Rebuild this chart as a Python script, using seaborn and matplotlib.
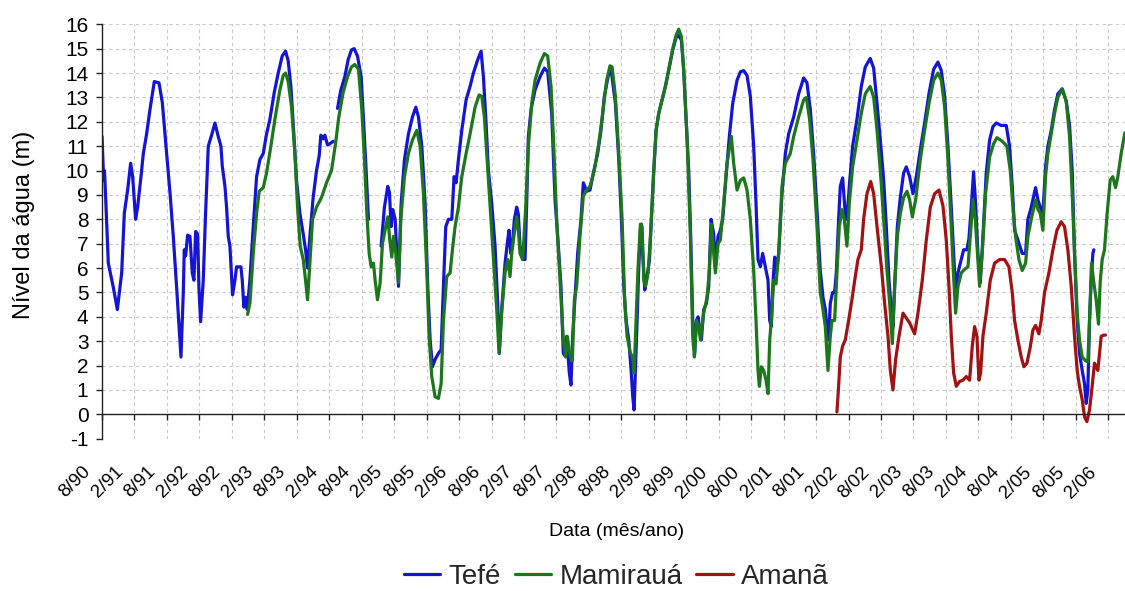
import numpy as np
import pandas as pd
import matplotlib
matplotlib.use("Agg")
import matplotlib.pyplot as plt
import seaborn as sns
from matplotlib.transforms import ScaledTranslation

nan = float("nan")

# months since August 1990, water level (m); nan marks a gap in the record
tefe_month = [
    0.0, 0.3, 0.45, 0.65, 1.16, 2.09, 2.83, 3.63, 4.12, 4.73,
    5.29, 5.66, 6.21, 6.58, 7.2, 7.63, 8.24, 8.86, 9.66, 10.52,
    11.14, 11.94, 12.56, 13.17, 13.79, 14.59, 15.02, 15.2, 15.45, 15.82,
    16.25, 16.68, 16.99, 17.3, 17.67, 17.91, 18.22, 18.71, 19.14, 19.64,
    20.25, 20.87, 21.48, 21.98, 22.22, 22.72, 23.02, 23.33, 23.64, 24.13,
    24.56, 24.87, 25.67, 25.92, 26.22, 26.53, 26.84, 27.33, 27.95, 28.57,
    29.18, 29.8, 30.41, 31.03, 31.83, 32.57, 33.31, 33.92, 34.41, 34.91,
    35.4, 35.95, 36.57, 37.19, 37.62, 37.99, 38.42, 39.03, 39.65, 40.14,
    40.45, 40.88, 41.19, 41.68, 42.11, 42.73, nan,
    43.53, 44.14, 44.88, 45.5, 46.11, 46.61, 47.22, 47.9, 48.33, 48.82,
    49.25, nan,
    51.59, 52.2, 52.82, 53.13, 53.44, 53.75, 54.18, 54.49, 54.8, 55.29,
    55.9, 56.64, 57.38, 58.0, 58.49, 59.11, 59.72, 60.21, 60.65, 61.08,
    61.57, 62.18, 62.68, 63.11, 63.54, 64.03, 64.65, 65.08, 65.45, 65.88,
    66.5, 67.3, 68.03, 68.65, 69.45, 70.07, 70.5, 70.99, 71.42, 72.04,
    72.65, 73.14, 73.45, 73.88, 74.5, 74.99, 75.24, 75.55, 75.85, 76.22,
    76.65, 76.96, 77.27, 77.76, 78.19, 78.5, 78.81, 79.3, 80.04, 80.96,
    81.77, 82.38, 83.12, 83.74, 84.35, 84.84, 85.27, 85.58, 85.89, 86.38,
    86.69, 87.0, 87.43, 87.92, 88.54, 88.97, 89.59, 90.2, 90.82, 91.62,
    92.23, 92.85, 93.59, 94.1, 94.9, 95.52, 96.01, 96.45, 96.88, 97.37,
    97.8, 98.11, 98.35, 98.6, 98.91, 99.22, 99.52, 99.71, 99.96, 100.32,
    100.76, 101.19, 101.56, 101.99, 102.42, 102.91, 103.53, 104.14, 104.88, 105.5,
    106.11, 106.6, 107.1, 107.53, 107.96, 108.45, 108.82, 109.19, 109.56, 109.87,
    110.18, 110.48, 110.79, 111.22, 111.72, 112.15, 112.58, 113.07, 113.38, 113.87,
    114.3, 114.73, 115.35, 115.96, 116.58, 117.38, 118.0, 118.61, 119.23, 119.84,
    120.46, 120.89, 121.26, 121.69, 122.12, 122.62, 123.11, 123.42, 123.72, 124.03,
    124.34, 124.65, 125.08, 125.69, 126.31, 126.92, 127.85, 128.77, 129.7, 130.31,
    130.93, 131.54, 132.16, 132.77, 133.27, 133.7, 134.0, 134.31, 134.62, 135.05,
    135.42, 135.73, 136.16, 136.47, 136.9, 137.39, 137.7, 138.13, 138.75, 139.55,
    140.35, 141.09, 142.0, 142.64, 143.26, 143.87, 144.49, 144.98, 145.47, 145.9,
    146.21, 146.52, 147.01, 147.57, 148.18, 148.67, 149.29, 149.9, 150.52, 151.26,
    152.06, 152.86, 153.72, 154.52, 155.14, 155.76, 156.37, 156.99, 157.42, 157.79,
    158.22, 158.83, 159.27, 159.88, 160.25, 160.68, 161.11, 161.48, 161.91, 162.35,
    162.84, 163.45, 164.07, 164.68, 165.3, 166.22, 167.15, 167.76, 168.26, 168.69,
    169.3, 170.1, 170.72, 171.15, 171.77, 172.57, 173.0, 173.43, 173.92, 174.41,
    174.84, 175.46, 176.08, 176.69, 177.49, 178.23, 178.85, 179.34, 179.77, 180.26,
    180.69, 181.19, 181.62, 181.93, 182.23, 182.54, 182.85, 183.16, 183.34,
]
tefe_level = [
    11.4, 9.6, 10.0, 9.0, 6.2, 5.2, 4.3, 5.8, 8.25, 9.2,
    10.3, 9.75, 8.0, 8.5, 9.75, 10.7, 11.5, 12.5, 13.65, 13.6,
    12.8, 10.7, 9.1, 7.3, 5.2, 2.35, 5.0, 6.75, 6.5, 7.35,
    7.3, 5.8, 5.5, 7.5, 7.4, 5.2, 3.8, 5.5, 8.25, 11.0,
    11.45, 11.95, 11.4, 11.0, 10.2, 9.35, 8.5, 7.3, 6.9, 4.9,
    5.5, 6.05, 6.05, 5.5, 4.4, 4.8, 4.3, 5.5, 7.7, 9.75,
    10.45, 10.7, 11.5, 12.1, 13.2, 14.0, 14.7, 14.9, 14.5, 13.45,
    11.7, 9.6, 8.25, 7.4, 6.75, 6.0, 7.3, 8.9, 10.0, 10.6,
    11.45, 11.3, 11.45, 11.05, 11.1, 11.2, nan,
    12.55, 13.3, 13.85, 14.55, 14.95, 15.0, 14.7, 13.85, 12.1, 10.0,
    8.0, nan,
    6.9, 8.5, 9.35, 9.1, 7.7, 8.4, 8.0, 6.6, 5.25, 8.65,
    10.45, 11.5, 12.2, 12.6, 12.2, 11.0, 8.65, 5.25, 3.05, 1.95,
    2.25, 2.5, 2.65, 5.25, 7.7, 8.0, 8.0, 9.75, 9.5, 10.45,
    11.65, 12.9, 13.45, 14.0, 14.55, 14.9, 13.85, 11.95, 10.0, 8.65,
    6.9, 4.55, 2.5, 4.3, 6.2, 7.15, 7.55, 6.6, 6.9, 8.0,
    8.5, 8.2, 6.9, 6.35, 6.35, 8.65, 11.4, 12.5, 13.3, 13.85,
    14.2, 14.05, 12.35, 8.8, 6.9, 5.25, 2.5, 2.4, 3.2, 1.7,
    1.2, 3.2, 4.8, 6.6, 8.0, 9.5, 9.15, 9.2, 9.9, 10.7,
    11.65, 13.05, 13.9, 14.15, 12.75, 10.45, 8.0, 5.25, 3.85, 3.05,
    1.8, 0.72, 0.18, 1.8, 3.85, 6.05, 7.55, 7.8, 6.6, 5.1,
    5.65, 6.35, 8.0, 10.0, 11.65, 12.35, 12.9, 13.45, 14.25, 14.95,
    15.45, 15.55, 15.35, 14.1, 12.1, 10.0, 7.3, 3.85, 2.5, 3.85,
    4.0, 3.5, 3.05, 4.3, 4.55, 5.25, 8.0, 7.4, 6.05, 7.3,
    7.55, 8.0, 9.75, 11.4, 12.75, 13.7, 14.05, 14.1, 13.9, 13.05,
    11.0, 8.65, 6.35, 6.05, 6.6, 6.05, 5.5, 3.85, 3.6, 5.4,
    6.45, 5.8, 6.6, 9.05, 10.7, 11.5, 12.2, 13.15, 13.8, 13.6,
    12.5, 10.7, 8.4, 5.9, 4.8, 4.3, 3.6, 3.05, 4.55, 5.0,
    5.0, 5.8, 8.0, 9.35, 9.7, 8.25, 8.0, 9.35, 11.0, 12.1,
    13.45, 14.25, 14.6, 14.2, 12.75, 11.25, 9.6, 7.7, 5.5, 4.3,
    3.6, 5.25, 7.7, 8.9, 9.9, 10.15, 9.75, 9.05, 9.75, 10.85,
    11.95, 13.15, 14.15, 14.45, 14.1, 13.05, 11.0, 8.5, 6.6, 5.0,
    5.8, 6.35, 6.75, 6.75, 7.2, 8.5, 9.95, 8.65, 6.6, 5.4,
    7.3, 9.9, 11.25, 11.8, 11.95, 11.85, 11.85, 11.0, 9.35, 7.55,
    7.15, 6.6, 6.6, 8.0, 8.5, 9.3, 8.8, 8.5, 8.25, 10.15,
    11.0, 11.65, 12.5, 13.15, 13.35, 12.85, 11.85, 10.0, 6.6, 3.85,
    2.5, 1.8, 1.25, 0.45, 1.0, 3.85, 5.5, 6.6, 6.75,
]

mamiraua_month = [
    26.9, 27.33, 27.95, 28.57, 29.06, 29.8, 30.41, 31.21, 31.95, 32.87,
    33.49, 33.92, 34.41, 35.03, 35.65, 36.14, 36.63, 37.19, 37.62, 37.99,
    38.42, 38.91, 39.65, 40.57, 41.5, 42.42, 43.16, 43.77, 44.57, 45.38,
    46.11, 46.73, 47.41, 48.02, 48.51, 48.95, 49.38, 49.75, 50.18, 50.48,
    50.92, 51.41, 51.84, 52.45, 52.82, 53.19, 53.56, 53.87, 54.3, 54.8,
    55.23, 55.9, 56.64, 57.38, 58.18, 58.8, 59.41, 60.03, 60.46, 60.95,
    61.57, 62.18, 62.68, 63.11, 63.72, 64.34, 64.77, 65.26, 65.88, 66.5,
    67.3, 68.03, 68.96, 69.7, 70.19, 70.68, 71.11, 71.73, 72.34, 72.96,
    73.39, 73.88, 74.5, 74.99, 75.42, 75.73, 76.22, 76.65, 76.96, 77.27,
    77.76, 78.32, 78.81, 79.43, 80.04, 80.96, 81.77, 82.38, 83.0, 83.43,
    84.04, 84.66, 85.27, 85.71, 86.01, 86.38, 86.69, 86.94, 87.31, 87.74,
    88.35, 88.97, 89.59, 90.2, 91.0, 91.74, 92.48, 93.28, 93.9, 94.29,
    94.9, 95.52, 96.14, 96.63, 97.06, 97.68, 98.11, 98.35, 98.72, 99.09,
    99.52, 99.83, 100.14, 100.45, 100.94, 101.37, 101.99, 102.42, 102.91, 103.53,
    104.14, 104.88, 105.5, 106.11, 106.6, 107.1, 107.53, 108.14, 108.76, 109.19,
    109.5, 109.87, 110.3, 110.61, 111.22, 111.84, 112.27, 112.64, 113.07, 113.38,
    113.87, 114.3, 114.92, 115.53, 116.33, 116.76, 117.38, 118.0, 118.61, 119.23,
    119.84, 120.46, 120.89, 121.26, 121.51, 121.88, 122.31, 122.74, 123.11, 123.42,
    123.72, 124.15, 124.59, 125.08, 125.69, 126.31, 127.23, 127.85, 128.77, 129.7,
    130.19, 130.8, 131.42, 132.16, 132.77, 133.21, 133.7, 134.19, 134.62, 134.93,
    135.42, 135.85, 136.28, 136.78, 137.21, 137.7, 138.13, 138.75, 139.55, 140.35,
    141.09, 142.0, 142.64, 143.26, 143.87, 144.49, 145.1, 145.6, 146.09, 146.52,
    147.01, 147.57, 148.18, 148.8, 149.29, 149.78, 150.4, 151.26, 152.06, 152.86,
    153.72, 154.52, 155.14, 155.76, 156.37, 156.99, 157.42, 157.79, 158.22, 158.83,
    159.45, 160.07, 160.5, 160.99, 161.42, 161.91, 162.22, 162.71, 163.33, 164.07,
    164.81, 165.42, 166.41, 167.27, 167.89, 168.38, 168.87, 169.49, 170.1, 170.72,
    171.15, 171.77, 172.57, 173.0, 173.43, 173.92, 174.41, 174.84, 175.46, 176.08,
    176.69, 177.49, 178.23, 178.85, 179.34, 179.77, 180.26, 180.69, 181.19, 181.8,
    182.23, 182.54, 182.91, 183.28, 183.77, 184.2, 184.51, 184.88, 185.31, 185.8,
    186.36, 186.85, 187.35, 187.78, 188.39, 189.07,
]
mamiraua_level = [
    4.1, 4.55, 6.6, 8.25, 9.15, 9.3, 9.9, 11.0, 12.1, 13.3,
    13.9, 14.0, 13.65, 12.6, 10.7, 8.5, 6.9, 6.35, 5.5, 4.7,
    6.2, 8.0, 8.5, 8.9, 9.5, 10.0, 11.1, 12.2, 13.2, 13.85,
    14.25, 14.35, 14.15, 12.5, 10.45, 8.25, 6.6, 6.05, 6.2, 5.5,
    4.7, 5.4, 7.0, 7.7, 8.1, 7.15, 6.45, 7.3, 6.6, 5.4,
    8.0, 9.75, 10.7, 11.25, 11.65, 11.0, 9.05, 5.9, 3.2, 1.55,
    0.72, 0.65, 1.25, 3.85, 5.65, 5.8, 6.75, 7.7, 8.5, 9.75,
    10.7, 11.5, 12.6, 13.1, 13.05, 12.2, 10.7, 8.5, 6.35, 4.3,
    2.5, 4.2, 5.8, 6.35, 5.65, 6.6, 7.45, 8.1, 7.55, 6.6,
    6.35, 8.5, 11.0, 12.75, 13.7, 14.4, 14.8, 14.7, 13.45, 11.4,
    8.0, 5.5, 3.05, 2.35, 3.2, 2.6, 2.35, 2.2, 4.7, 5.25,
    7.3, 8.95, 9.2, 9.35, 10.0, 11.0, 12.2, 13.7, 14.3, 14.25,
    13.05, 10.7, 8.0, 4.55, 3.2, 2.5, 2.35, 1.7, 3.85, 6.05,
    7.8, 7.7, 5.5, 5.25, 5.8, 7.3, 10.0, 11.65, 12.35, 12.9,
    13.45, 14.3, 15.0, 15.55, 15.8, 15.5, 14.1, 11.4, 7.3, 3.2,
    2.35, 3.85, 3.6, 3.05, 4.15, 4.8, 5.9, 7.8, 6.6, 5.8,
    7.0, 7.15, 8.65, 10.3, 11.4, 10.3, 9.2, 9.6, 9.7, 9.2,
    8.0, 5.9, 3.85, 1.8, 1.15, 1.95, 1.8, 1.4, 0.85, 3.05,
    3.85, 5.5, 5.35, 6.6, 9.35, 10.3, 10.7, 11.4, 12.2, 12.9,
    13.0, 12.1, 10.45, 7.7, 5.0, 4.4, 3.6, 1.8, 3.2, 3.85,
    3.85, 5.8, 7.7, 8.4, 8.0, 6.9, 8.65, 10.15, 11.25, 12.35,
    13.15, 13.45, 13.0, 11.65, 10.0, 8.0, 5.9, 4.55, 2.9, 5.25,
    7.3, 8.25, 8.9, 9.15, 8.8, 8.1, 8.8, 10.45, 11.65, 12.75,
    13.7, 14.0, 13.7, 12.6, 10.45, 7.7, 5.65, 4.15, 5.25, 5.8,
    5.95, 6.05, 7.3, 8.8, 8.0, 6.35, 5.25, 6.6, 9.05, 10.55,
    11.1, 11.35, 11.2, 11.0, 10.0, 8.5, 7.3, 6.35, 5.9, 6.2,
    7.3, 8.0, 8.8, 8.4, 8.25, 7.55, 9.75, 10.7, 11.5, 12.35,
    13.0, 13.35, 12.85, 11.4, 9.05, 6.6, 4.15, 3.05, 2.35, 2.2,
    2.15, 3.85, 6.2, 5.5, 4.7, 3.7, 5.4, 6.35, 6.75, 8.25,
    9.6, 9.75, 9.3, 9.75, 10.7, 11.55,
]

amana_month = [
    135.85, 136.16, 136.47, 136.9, 137.39, 138.01, 138.62, 139.24, 139.73, 140.35,
    140.78, 141.4, 142.09, 142.64, 143.26, 144.06, 144.67, 145.29, 145.72, 146.21,
    146.7, 147.32, 148.06, 148.67, 149.29, 150.21, 150.83, 151.63, 152.37, 153.11,
    153.91, 154.71, 155.45, 156.06, 156.56, 156.99, 157.42, 157.91, 158.53, 159.14,
    159.76, 160.37, 160.87, 161.3, 161.73, 162.1, 162.41, 162.84, 163.45, 164.19,
    164.99, 165.92, 166.84, 167.64, 168.26, 168.69, 169.3, 169.92, 170.41, 170.97,
    171.58, 172.07, 172.57, 173.18, 173.61, 174.23, 175.03, 175.77, 176.51, 177.31,
    177.92, 178.54, 179.16, 179.77, 180.26, 180.69, 181.19, 181.62, 182.05, 182.54,
    183.03, 183.46, 183.77, 184.08, 184.39, 184.7, 185.13, 185.5,
]
amana_level = [
    0.1, 1.15, 2.35, 2.8, 3.05, 3.85, 4.7, 5.65, 6.35, 6.75,
    8.0, 9.05, 9.55, 9.05, 7.7, 6.05, 4.55, 3.2, 1.8, 1.0,
    2.25, 3.2, 4.15, 3.95, 3.75, 3.3, 4.15, 5.5, 7.15, 8.5,
    9.05, 9.2, 8.55, 7.15, 5.25, 3.2, 1.7, 1.15, 1.35, 1.4,
    1.55, 1.4, 2.8, 3.6, 3.2, 1.4, 1.7, 3.2, 4.15, 5.5,
    6.2, 6.35, 6.35, 6.05, 5.0, 3.85, 3.05, 2.35, 1.95, 2.1,
    2.75, 3.45, 3.65, 3.3, 3.85, 5.0, 5.8, 6.75, 7.55, 7.9,
    7.7, 6.75, 5.25, 3.2, 1.8, 1.15, 0.6, -0.1, -0.3, 0.18,
    1.15, 2.1, 1.95, 1.8, 2.5, 3.2, 3.25, 3.25,
]

tick_labels = [
    "8/90", "2/91", "8/91", "2/92", "8/92", "2/93", "8/93", "2/94",
    "8/94", "2/95", "8/95", "2/96", "8/96", "2/97", "8/97", "2/98",
    "8/98", "2/99", "8/99", "2/00", "8/00", "2/01", "8/01", "2/02",
    "8/02", "2/03", "8/03", "2/04", "8/04", "2/05", "8/05", "2/06",
]
stations = ["Tefé", "Mamirauá", "Amanã"]
colors = ["#1414d4", "#1c771c", "#a31212"]


def to_frame(name, months, levels):
    m = np.asarray(months, float)
    lv = np.asarray(levels, float)
    assert len(m) == len(lv), (name, len(m), len(lv))
    seg = np.cumsum(np.isnan(lv))
    df = pd.DataFrame({"mes": m, "nivel": lv, "estacao": name,
                       "trecho": [f"{name}-{s}" for s in seg]})
    return df.dropna()


data = pd.concat([
    to_frame("Tefé", tefe_month, tefe_level),
    to_frame("Mamirauá", mamiraua_month, mamiraua_level),
    to_frame("Amanã", amana_month, amana_level),
], ignore_index=True)

sns.set_theme(style="white")
plt.rcParams["font.family"] = ["Liberation Sans", "DejaVu Sans"]
plt.rcParams["axes.unicode_minus"] = False

fig = plt.figure(figsize=(11.25, 5.91), dpi=100)
ax = fig.add_axes([0.0907, 0.2577, 0.9093, 0.7012])

sns.lineplot(data=data, x="mes", y="nivel", hue="estacao", hue_order=stations,
             palette=colors, units="trecho", estimator=None, sort=False,
             linewidth=2.3, ax=ax)

ax.set_xlim(0, 189.1)
ax.set_ylim(-1, 16)

ax.set_axisbelow(True)
ax.grid(True, color="#c8c8c8", linestyle=(0, (3, 3)), linewidth=0.8)

for side in ("top", "right"):
    ax.spines[side].set_visible(False)
ax.spines["bottom"].set_position(("data", 0))
for side in ("bottom", "left"):
    ax.spines[side].set_color("#222222")
    ax.spines[side].set_linewidth(1.0)

ax.tick_params(axis="x", direction="out", length=4.3, width=1, pad=31,
               color="#222222", labelcolor="black", bottom=True, labelsize=13.5)
ax.tick_params(axis="y", direction="out", length=4.3, width=1, pad=5.5,
               color="#222222", labelsize=15, labelcolor="black", left=True)

ax.set_yticks(range(-1, 17))
ax.set_xticks([6 * i for i in range(len(tick_labels))])
ax.set_xticklabels(tick_labels)
offset = ScaledTranslation(-8 / 100, 0, fig.dpi_scale_trans)
for lab in ax.get_xticklabels():
    lab.set_rotation(45)
    lab.set_horizontalalignment("right")
    lab.set_verticalalignment("top")
    lab.set_transform(lab.get_transform() + offset)

ax.set_ylabel("Nível da água (m)", fontsize=17, color="black")
ax.yaxis.set_label_coords(-0.066, 0.515)
ax.set_xlabel("")
fig.text(617 / 1125, 1 - 532 / 591, "Data (mês/ano)", ha="center", va="center",
         fontsize=14, color="black")

sns.move_legend(ax, loc="center", bbox_to_anchor=(0.548, 0.024),
                bbox_transform=fig.transFigure, ncol=3, frameon=False,
                title=None, fontsize=20, handlelength=1.3, handletextpad=0.3,
                columnspacing=0.5)

fig.savefig("out.png", dpi=100)
